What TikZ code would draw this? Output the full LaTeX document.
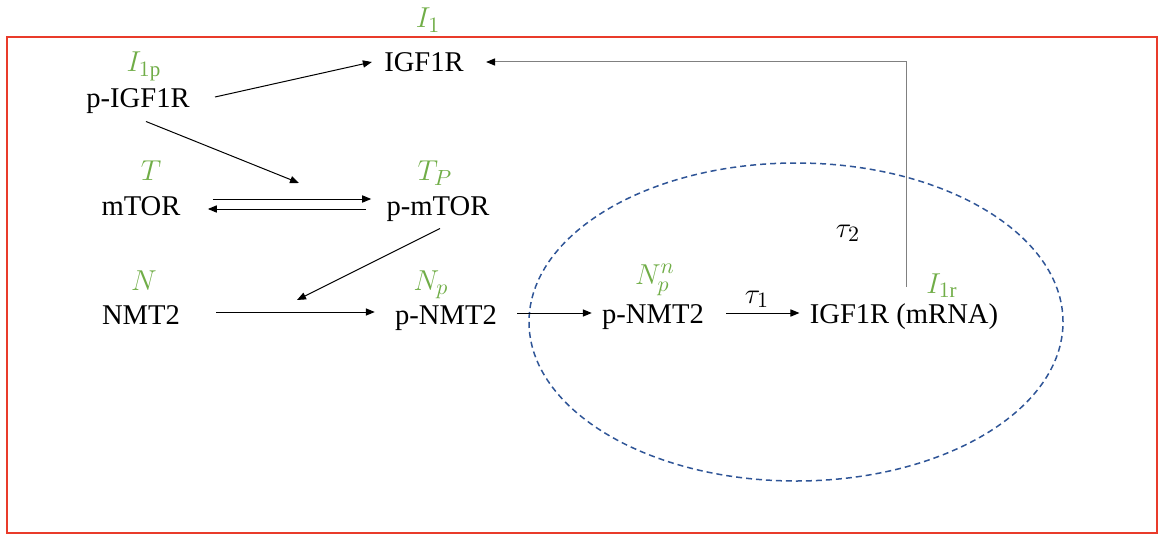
\documentclass[tikz,border=0pt]{standalone}
\usepackage{fontspec}
\setmainfont{Liberation Serif}
\usetikzlibrary{arrows.meta}
\definecolor{framered}{RGB}{233,59,42}
\definecolor{nucblue}{RGB}{47,85,151}
\definecolor{vargreen}{RGB}{112,173,71}
\definecolor{linkgray}{RGB}{128,128,128}
\tikzset{
  species/.style={anchor=base, inner sep=0pt, font=\fontsize{14.3}{16}\selectfont},
  varlabel/.style={anchor=base, inner sep=0pt, text=vargreen, font=\fontsize{15}{17}\selectfont},
  delay/.style={anchor=base, inner sep=0pt, font=\fontsize{15}{17}\selectfont},
  arr/.style={line width=0.5pt, -{Triangle[length=4.5pt,width=3.6pt]}},
  feedback/.style={line width=0.5pt, draw=linkgray, -{Triangle[length=4.5pt,width=3.6pt,color=black]}},
}
\begin{document}
\begin{tikzpicture}[x=0.5pt,y=-0.5pt]
\useasboundingbox (0,0) rectangle (1165,535);
% outer compartment
\draw[framered, line width=0.9pt] (7,37) rectangle (1157,533);
% nucleus
\draw[nucblue, line width=0.75pt, dash pattern=on 3pt off 2pt]
  (796,322) ellipse [x radius=133.5pt, y radius=79.5pt];

% species
\node[species] (igf)   at (424,72)  {IGF1R};
\node[species] (pigf)  at (138,107) {p-IGF1R};
\node[species] (mtor)  at (141,215) {mTOR};
\node[species] (pmtor) at (438,215) {p-mTOR};
\node[species] (nmt)   at (141,324) {NMT2};
\node[species] (pnmt)  at (446,324) {p-NMT2};
\node[species] (pnmtn) at (653,323) {p-NMT2};
\node[species] (mrna)  at (904,323) {IGF1R (mRNA)};

% variable names
\node[varlabel] (lI1)  at (428,28)  {$I_1$};
\node[varlabel] (lI1p) at (144,72)  {$I_{1\mathrm{p}}$};
\node[varlabel] (lT)   at (151,180) {$T$};
\node[varlabel] (lTP)  at (435,180) {$T_P$};
\node[varlabel] (lN)   at (144,290) {$N$};
\node[varlabel] (lNp)  at (431,290) {$N_p$};
\node[varlabel] (lNpn) at (655,284) {$N_p^n$};
\node[varlabel] (lI1r) at (942,293) {$I_{1\mathrm{r}}$};

% delays
\node[delay] (tau1) at (757,303) {$\tau_1$};
\node[delay] (tau2) at (848,237) {$\tau_2$};

% catalysis targets on reaction arrows
\coordinate (cat1) at (299,183);
\coordinate (cat2) at (297,300);

% reactions
\draw[arr] ([shift={(12.5pt,5pt)}]pigf.base east) -- ([shift={(-6pt,5pt)}]igf.base west);
\draw[arr] ([shift={(4pt,-4pt)}]pigf.south) -- (cat1);
\draw[arr] ([shift={(16pt,8pt)}]mtor.base east) -- ([shift={(-7.5pt,8pt)}]pmtor.base west);
\draw[arr] ([shift={(-10pt,3pt)}]pmtor.base west) -- ([shift={(13.5pt,3pt)}]mtor.base east);
\draw[arr] ([shift={(1pt,-3.5pt)}]pmtor.south) -- (cat2);
\draw[arr] ([shift={(18pt,6pt)}]nmt.base east) -- ([shift={(-10pt,6pt)}]pnmt.base west);
\draw[arr] ([shift={(10pt,5.5pt)}]pnmt.base east) -- ([shift={(-5pt,5pt)}]pnmtn.base west);
\draw[arr] ([shift={(11pt,5pt)}]pnmtn.base east) -- ([shift={(-5pt,5pt)}]mrna.base west);
\draw[feedback] ([shift={(1pt,8pt)}]mrna.north) |- ([shift={(11pt,5pt)}]igf.base east);
\end{tikzpicture}
\end{document}
